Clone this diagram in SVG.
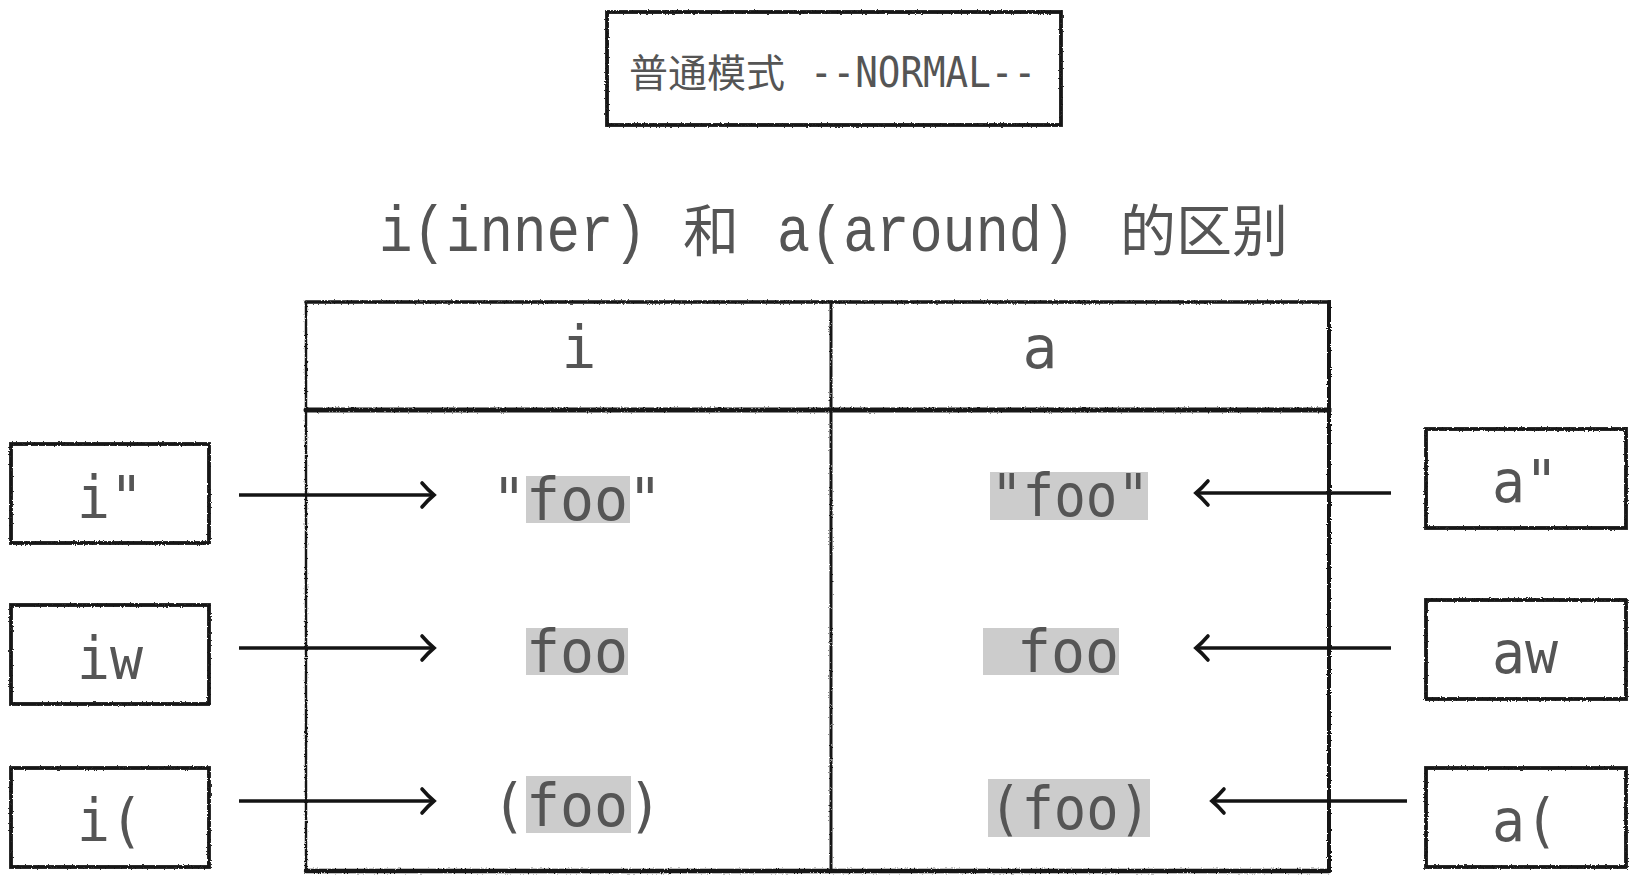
<svg xmlns="http://www.w3.org/2000/svg" width="1643" height="888" viewBox="0 0 1643 888">
<style>
.bg{fill:#ffffff}
.box{fill:#ffffff;stroke:#141414;stroke-width:3.8}
.ln{stroke:#141414;fill:none;stroke-linecap:round}
.mono{font-family:"DejaVu Sans Mono","Liberation Mono",monospace;fill:#555555}
.title{font-family:"Liberation Mono","DejaVu Sans Mono",monospace;fill:#555555;font-size:64px}
.cjk{font-family:"Noto Sans CJK SC","Noto Sans",sans-serif;fill:#555555}
.cell{font-size:58px}
.hl{fill:#cccccc}
.arrow{stroke:#141414;stroke-width:3.6;fill:none}
</style>
<defs>
<filter id="rough" x="-5%" y="-5%" width="110%" height="110%">
<feTurbulence type="fractalNoise" baseFrequency="0.7" numOctaves="2" seed="3" result="n"/>
<feDisplacementMap in="SourceGraphic" in2="n" scale="2.6" xChannelSelector="R" yChannelSelector="G"/>
</filter>
<marker id="head" markerUnits="userSpaceOnUse" markerWidth="30" markerHeight="30" viewBox="-15 -15 30 30" refX="0" refY="0" orient="auto">
<path d="M-11,-12 Q-5,-5 1,0 Q-5,5 -11,12" fill="none" stroke="#141414" stroke-width="3.6" stroke-linecap="round"/>
</marker>
</defs>
<rect class="bg" x="0" y="0" width="1643" height="888"/>

<g id="mode-box">
<rect class="box" x="607" y="12" width="454" height="113" filter="url(#rough)"/>
<text class="cjk" x="629" y="87" font-size="39">普通模式</text>
<text class="mono" x="810" y="87" font-size="43" textLength="226" lengthAdjust="spacingAndGlyphs">--NORMAL--</text>
</g>

<g id="title">
<text class="title" x="379" y="251" textLength="268" lengthAdjust="spacingAndGlyphs">i(inner)</text>
<text class="cjk" x="683" y="251" font-size="56">和</text>
<text class="title" x="777" y="251" textLength="298" lengthAdjust="spacingAndGlyphs">a(around)</text>
<text class="cjk" x="1120" y="251" font-size="56">的区别</text>
</g>

<g id="table">
<g filter="url(#rough)">
<line class="ln" x1="306" y1="302" x2="1329" y2="302" stroke-width="3.6"/>
<line class="ln" x1="306" y1="302" x2="306" y2="871" stroke-width="2.4"/>
<line class="ln" x1="1329" y1="302" x2="1329" y2="871" stroke-width="4"/>
<line class="ln" x1="306" y1="871" x2="1329" y2="871" stroke-width="4.4"/>
<line class="ln" x1="306" y1="410" x2="1329" y2="410" stroke-width="5"/>
<line class="ln" x1="831" y1="302" x2="831" y2="871" stroke-width="3"/>
</g>
<text class="mono cell" x="579" y="368" text-anchor="middle">i</text>
<text class="mono cell" x="1040" y="368" text-anchor="middle">a</text>
</g>

<g id="cell-i-quote">
<rect class="hl" x="526" y="476" width="104" height="47"/>
<text class="mono cell" x="492" y="520" textLength="170" lengthAdjust="spacingAndGlyphs">"foo"</text>
</g>
<g id="cell-i-word">
<rect class="hl" x="526" y="628" width="102" height="47"/>
<text class="mono cell" x="526" y="672" textLength="102" lengthAdjust="spacingAndGlyphs">foo</text>
</g>
<g id="cell-i-paren">
<rect class="hl" x="526" y="776" width="105" height="57"/>
<text class="mono cell" x="492" y="826" textLength="170" lengthAdjust="spacingAndGlyphs">(foo)</text>
</g>
<g id="cell-a-quote">
<rect class="hl" x="990" y="472" width="158" height="48"/>
<text class="mono cell" x="991" y="516" textLength="158" lengthAdjust="spacingAndGlyphs">"foo"</text>
</g>
<g id="cell-a-word">
<rect class="hl" x="983" y="628" width="136" height="47"/>
<text class="mono cell" x="1017" y="672" textLength="102" lengthAdjust="spacingAndGlyphs">foo</text>
</g>
<g id="cell-a-paren">
<rect class="hl" x="988" y="779" width="162" height="58"/>
<text class="mono cell" x="989" y="829" textLength="162" lengthAdjust="spacingAndGlyphs">(foo)</text>
</g>

<g id="key-iquote">
<rect class="box" x="11" y="444" width="198" height="99" filter="url(#rough)"/>
<text class="mono cell" x="110" y="518" text-anchor="middle" textLength="66" lengthAdjust="spacingAndGlyphs">i"</text>
</g>
<g id="key-iw">
<rect class="box" x="11" y="605" width="198" height="99" filter="url(#rough)"/>
<text class="mono cell" x="110" y="679" text-anchor="middle" textLength="66" lengthAdjust="spacingAndGlyphs">iw</text>
</g>
<g id="key-iparen">
<rect class="box" x="11" y="768" width="198" height="99" filter="url(#rough)"/>
<text class="mono cell" x="110" y="841" text-anchor="middle" textLength="66" lengthAdjust="spacingAndGlyphs">i(</text>
</g>
<g id="key-aquote">
<rect class="box" x="1426" y="429" width="200" height="99" filter="url(#rough)"/>
<text class="mono cell" x="1525" y="502" text-anchor="middle" textLength="66" lengthAdjust="spacingAndGlyphs">a"</text>
</g>
<g id="key-aw">
<rect class="box" x="1426" y="600" width="200" height="99" filter="url(#rough)"/>
<text class="mono cell" x="1525" y="673" text-anchor="middle" textLength="66" lengthAdjust="spacingAndGlyphs">aw</text>
</g>
<g id="key-aparen">
<rect class="box" x="1426" y="768" width="200" height="99" filter="url(#rough)"/>
<text class="mono cell" x="1525" y="841" text-anchor="middle" textLength="66" lengthAdjust="spacingAndGlyphs">a(</text>
</g>

<g id="connectors">
<line class="arrow" x1="239" y1="495" x2="433" y2="495" marker-end="url(#head)"/>
<line class="arrow" x1="239" y1="648" x2="433" y2="648" marker-end="url(#head)"/>
<line class="arrow" x1="239" y1="801" x2="433" y2="801" marker-end="url(#head)"/>
<line class="arrow" x1="1391" y1="493" x2="1197" y2="493" marker-end="url(#head)"/>
<line class="arrow" x1="1391" y1="648" x2="1197" y2="648" marker-end="url(#head)"/>
<line class="arrow" x1="1407" y1="801" x2="1213" y2="801" marker-end="url(#head)"/>
</g>
</svg>
